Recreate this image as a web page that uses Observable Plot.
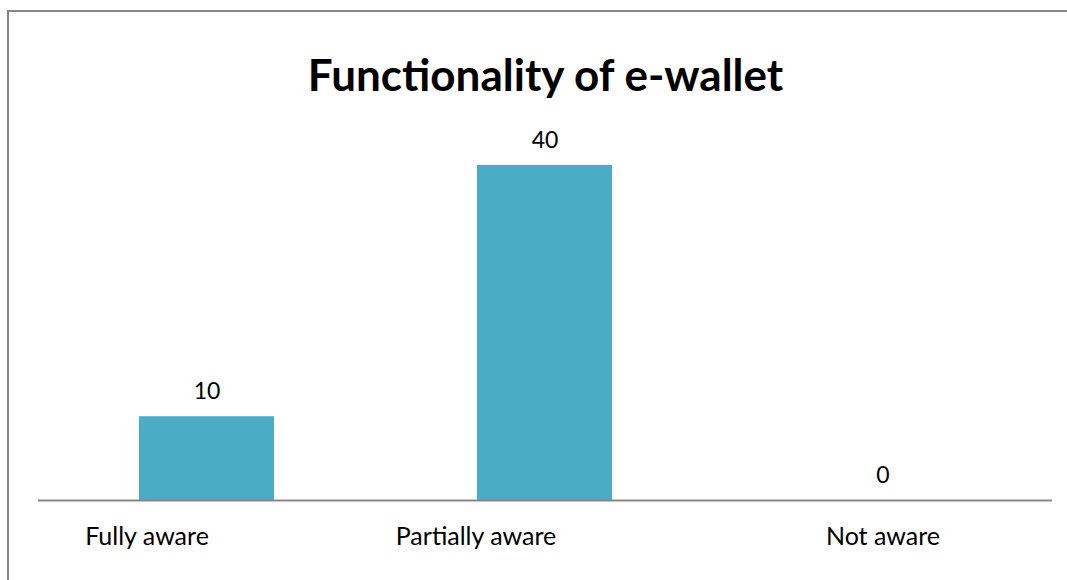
<!DOCTYPE html>
<html>
<head>
<meta charset="utf-8">
<script src="https://cdn.jsdelivr.net/npm/d3@7"></script>
<script src="https://cdn.jsdelivr.net/npm/@observablehq/plot@0.6"></script>
<style>
  html, body { margin: 0; padding: 0; background: #fff; }
  #wrap { position: relative; width: 1067px; height: 580px; overflow: hidden; }
  #border { position: absolute; left: 7px; top: 10px; width: 1070px; height: 580px;
            border-top: 2px solid #878787; border-left: 2px solid #878787; pointer-events: none; }
  #chart { position: absolute; left: 0; top: 0; }
</style>
</head>
<body>
<div id="wrap"><div id="chart"></div><div id="border"></div></div>
<script>
const title = "Functionality of e-wallet";
const categories = ["Fully aware", "Partially aware", "Not aware"];
const values = [10, 40, 0];

const data = categories.map((c, i) => ({category: c, value: values[i]}));

// horizontal nudges for category labels (layout, as in the reference)
const labelShift = {"Fully aware": -60, "Partially aware": -69, "Not aware": 0};

const font = "Lato, 'Open Sans', sans-serif";

const chart = Plot.plot({
  width: 1067,
  height: 580,
  marginLeft: 38,
  marginRight: 15,
  marginTop: 123,
  marginBottom: 80,
  style: {fontFamily: font, background: "transparent", color: "#000"},
  x: {domain: categories, paddingInner: 0.6, paddingOuter: 0.3, axis: null},
  y: {domain: [0, 45], axis: null},
  marks: [
    Plot.barY(data, {x: "category", y: "value", fill: "#4BACC6"}),
    Plot.ruleY([0], {stroke: "#878787", strokeWidth: 2}),
    Plot.text(data, {x: "category", y: "value", text: d => String(d.value),
      dy: -25, fontSize: 23, fill: "#000"}),
    ...categories.map(c => Plot.text([c], {x: d => d, text: d => d, frameAnchor: "bottom",
      dy: 44, dx: labelShift[c], fontSize: 25, fill: "#000"})),
    Plot.text([title], {frameAnchor: "top", text: d => d, dy: -64,
      fontSize: 44, fontWeight: "bold", fill: "#000"})
  ]
});
document.getElementById("chart").appendChild(chart);
</script>
</body>
</html>
